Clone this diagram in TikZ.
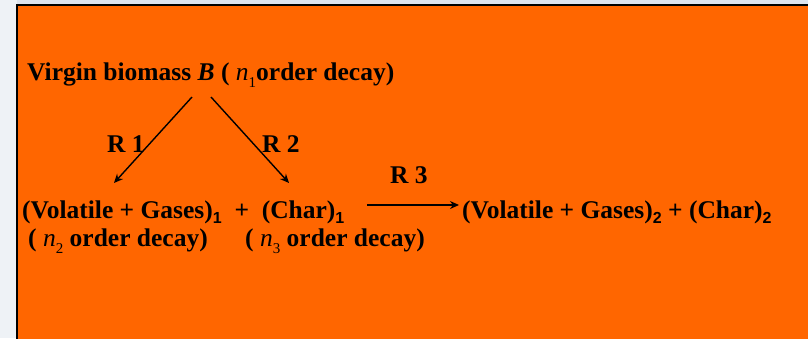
\documentclass[tikz,border=0pt]{standalone}
\usepackage{fontspec}
\setmainfont{Liberation Serif}
\newfontfamily\subsans{Liberation Sans}
\usetikzlibrary{arrows.meta}
\definecolor{slideorange}{HTML}{FF6600}
\definecolor{bgblue}{RGB}{221,228,238}
\definecolor{bgleft}{RGB}{238,242,246}
\newcommand{\nsub}[1]{{\mdseries\itshape n}\raisebox{-0.3em}{\mdseries\fontsize{15}{15}\selectfont #1}}
\newcommand{\ssub}[1]{\raisebox{-0.22em}{\subsans\bfseries\fontsize{16}{16}\selectfont #1}}
\tikzset{
  txt/.style={anchor=base west, inner sep=0pt, font=\bfseries\fontsize{25.5}{30}\selectfont},
  rarrow/.style={line width=1.4pt, -{Stealth[length=9pt,width=8pt]}}
}
\begin{document}
\begin{tikzpicture}[x=1pt,y=-1pt]
\useasboundingbox (0,0) rectangle (808,338);
\fill[bgblue] (0,0) rectangle (808,338);
\fill[bgleft] (0,0) rectangle (17,338);
\fill[slideorange] (17,5) rectangle (812,342);
\draw[line width=1.5pt] (17,342) -- (17,5) -- (812,5);

\node[txt] (virgin) at (27,80) {Virgin biomass \textit{B} ( \nsub{1}order decay)};
\node[txt] (r1) at (107,152) {R 1};
\node[txt] (r2) at (262,152) {R 2};
\node[txt] (r3) at (390,183) {R 3};
\node[txt] (left) at (22,218) {(Volatile + Gases)\ssub{1}\ \ +\ \ (Char)\ssub{1}};
\node[txt] (right) at (462,218) {(Volatile + Gases)\ssub{2} + (Char)\ssub{2}};
\node[txt] (n2) at (28,246) {( \nsub{2} order decay)};
\node[txt] (n3) at (245,246) {( \nsub{3} order decay)};

\coordinate (a1s) at (192,97);
\coordinate (a1e) at (114,183);
\coordinate (a2s) at (211,97);
\coordinate (a2e) at (289,183);
\coordinate (a3s) at (367,205);
\coordinate (a3e) at (459,205);
\draw[rarrow] (a1s) -- (a1e);
\draw[rarrow] (a2s) -- (a2e);
\draw[rarrow] (a3s) -- (a3e);
\end{tikzpicture}
\end{document}
